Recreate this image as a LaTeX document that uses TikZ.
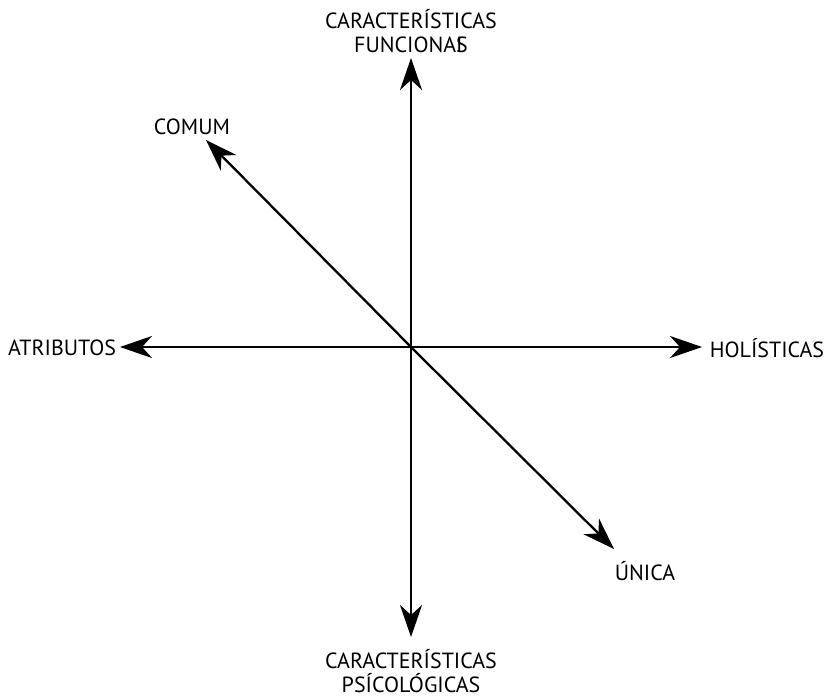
\documentclass[tikz,border=0pt]{standalone}
\usepackage{fontspec}
\setmainfont{PT Sans}
\usetikzlibrary{arrows.meta}

\tikzset{
  axis/.style={line width=1.3pt, -{Stealth[length=0.64cm, width=0.44cm, inset=0.2cm]}},
  lbl/.style={font=\fontsize{12.5}{13.6}\selectfont, align=center, inner sep=0pt}
}

\begin{document}
\begin{tikzpicture}[x=0.02cm, y=-0.02cm]
      \useasboundingbox (0,0) rectangle (827,699);

      \coordinate (o) at (411,347);
      \coordinate (up) at (411,58);
      \coordinate (down) at (411,637);
      \coordinate (left) at (120,347);
      \coordinate (right) at (702,347);
      \coordinate (ul) at (206,140);
      \coordinate (lr) at (614,549);

      \draw [axis] (o) -- (up);
      \draw [axis] (o) -- (down);
      \draw [axis] (o) -- (left);
      \draw [axis] (o) -- (right);
      \draw [axis] (o) -- (ul);
      \draw [axis] (o) -- (lr);

      \node [lbl] (funcionais) at (411,31) {CARACTERÍSTICAS\\FUNCIONA\rlap{I}S};
      \node [lbl] (psicologicas) at (411,671) {CARACTERÍSTICAS\\PSÍCOLÓGICAS};
      \node [lbl] (atributos) at (62,348) {ATRIBUTOS};
      \node [lbl] (holisticas) at (767,348) {HOLÍSTICAS};
      \node [lbl] (comum) at (192,127) {COMUM};
      \node [lbl] (unica) at (645,571) {ÚNICA};

    \end{tikzpicture}
\end{document}
